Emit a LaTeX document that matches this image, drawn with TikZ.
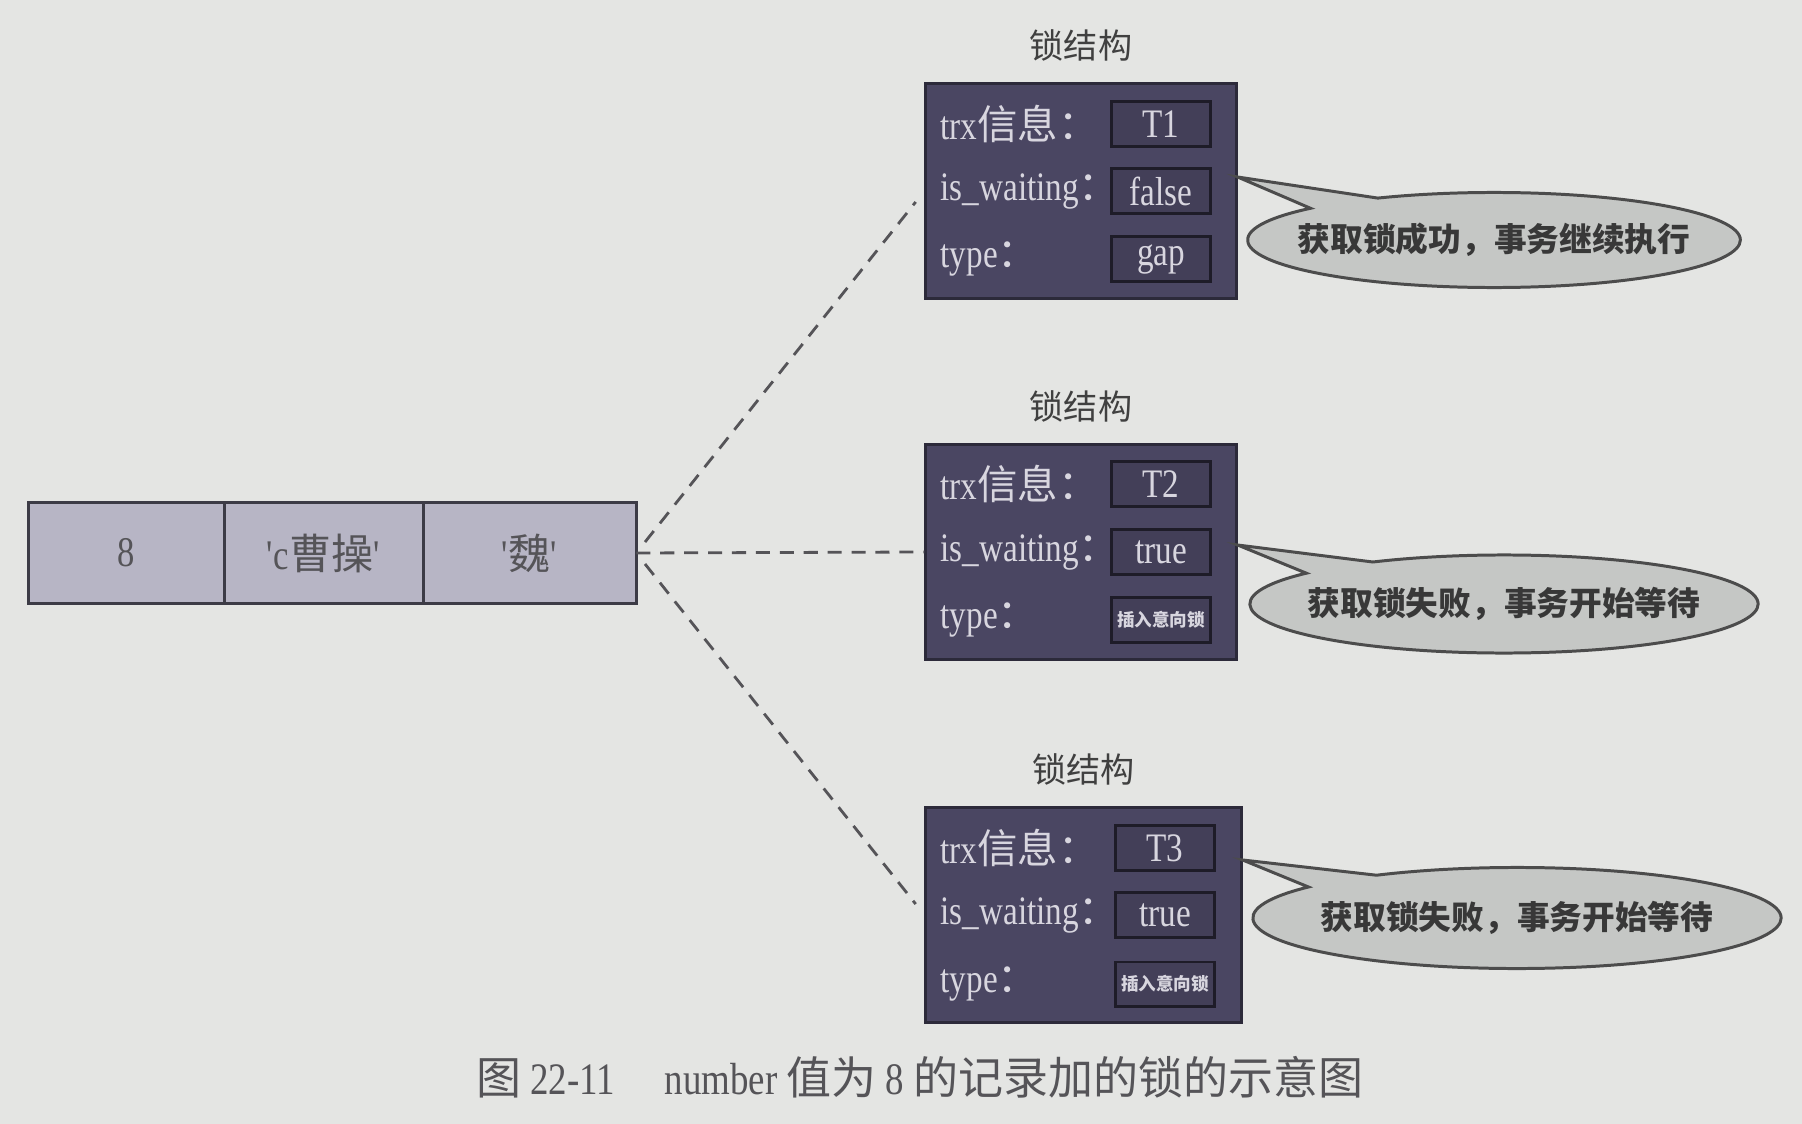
\documentclass[tikz,border=0pt]{standalone}
\usepackage{fontspec}
\setmainfont{Liberation Serif}[FakeStretch=0.82]
\newfontfamily\cjk{Noto Sans CJK SC}
\newcommand{\zh}[1]{{\cjk #1}}
\usetikzlibrary{positioning,shapes.callouts}
\definecolor{paper}{HTML}{E4E5E3}
\definecolor{lockfill}{HTML}{4A4662}
\definecolor{lockedge}{HTML}{2C2A3A}
\definecolor{valfill}{HTML}{433F58}
\definecolor{valedge}{HTML}{1E1C28}
\definecolor{locktext}{HTML}{D8D6DF}
\definecolor{cellfill}{HTML}{B7B5C5}
\definecolor{celledge}{HTML}{3C3B46}
\definecolor{inkgray}{HTML}{555458}
\definecolor{bubblefill}{HTML}{C5C7C5}
\begin{document}
\begin{tikzpicture}[x=0.01cm, y=-0.01cm,
  reccell/.style={rectangle, draw=celledge, fill=cellfill, line width=0.85pt, minimum height=1cm, outer sep=0pt, text=inkgray, font=\fontsize{12}{14}\selectfont},
  lockbox/.style={rectangle, draw=lockedge, fill=lockfill, line width=0.85pt, minimum width=3.1cm, minimum height=2.15cm},
  locktitle/.style={text=black!75, font=\fontsize{9.7}{11}\selectfont\cjk},
  field/.style={anchor=west, inner sep=0pt, text=locktext, font=\fontsize{11.5}{13}\selectfont},
  valbox/.style={rectangle, draw=valedge, fill=valfill, line width=0.85pt, minimum width=0.98cm, minimum height=0.44cm, inner sep=1pt, text=locktext, font=\fontsize{11.5}{13}\selectfont},
  smallval/.style={font=\fontsize{5}{6}\selectfont\cjk\bfseries},
  bubble/.style={ellipse callout, callout pointer arc=20, draw=black!70, fill=bubblefill, line width=0.85pt, inner sep=0pt, text=black!78, font=\fontsize{9.3}{11}\selectfont\cjk\bfseries},
  dashlink/.style={draw=inkgray, line width=0.8pt, dash pattern=on 4pt off 2.8pt}
]
\fill[paper] (0,0) rectangle (1802,1124);

% record
\node[reccell, minimum width=1.95cm] (rec1) at (126.5,553) {8};
\node[reccell, minimum width=1.99cm, right=0pt of rec1] (rec2) {\textquotesingle c\zh{曹操}\textquotesingle};
\node[reccell, minimum width=2.13cm, right=0pt of rec2] (rec3) {\textquotesingle\zh{魏}\textquotesingle};

% lock 1
\node[lockbox] (lock1) at (1081,191) {};
\node[locktitle, above=0.08cm of lock1] (title1) {锁结构};
\node[field] (trx1) at (940,124) {trx\zh{信息：}};
\node[field] (wait1) at (940,191) {is\_waiting\zh{：}};
\node[field] (type1) at (940,259) {type\zh{：}};
\node[valbox] (trxv1) at (1161,124) {T1};
\node[valbox] (waitv1) at (1161,191) {false};
\node[valbox] (typev1) at (1161,259) {gap};
\node[bubble, inner xsep=-0.22cm, minimum width=4.92cm, minimum height=0.95cm, callout absolute pointer={([yshift=0.14cm]lock1.east)}] (say1) at (1494,240) {获取锁成功，事务继续执行};

% lock 2
\node[lockbox] (lock2) at (1081,552) {};
\node[locktitle, above=0.08cm of lock2] (title2) {锁结构};
\node[field] (trx2) at (940,484) {trx\zh{信息：}};
\node[field] (wait2) at (940,552) {is\_waiting\zh{：}};
\node[field] (type2) at (940,620) {type\zh{：}};
\node[valbox] (trxv2) at (1161,484) {T2};
\node[valbox] (waitv2) at (1161,552) {true};
\node[valbox, smallval] (typev2) at (1161,620) {插入意向锁};
\node[bubble, inner xsep=-0.17cm, minimum width=5.08cm, minimum height=0.98cm, callout absolute pointer={([yshift=0.07cm]lock2.east)}] (say2) at (1504,604) {获取锁失败，事务开始等待};

% lock 3
\node[lockbox, minimum width=3.15cm] (lock3) at (1083.5,915) {};
\node[locktitle, above=0.08cm of lock3] (title3) {锁结构};
\node[field] (trx3) at (940,848) {trx\zh{信息：}};
\node[field] (wait3) at (940,915) {is\_waiting\zh{：}};
\node[field] (type3) at (940,984) {type\zh{：}};
\node[valbox] (trxv3) at (1165,848) {T3};
\node[valbox] (waitv3) at (1165,915) {true};
\node[valbox, smallval] (typev3) at (1165,984) {插入意向锁};
\node[bubble, inner xsep=-0.1cm, minimum width=5.28cm, minimum height=1.01cm, callout absolute pointer={([yshift=0.55cm]lock3.east)}] (say3) at (1517,918) {获取锁失败，事务开始等待};

% links
\draw[dashlink, shorten <=0.14cm, shorten >=0.14cm] (rec3.east) -- (lock1.west);
\draw[dashlink] (rec3.east) -- (lock2.west);
\draw[dashlink, shorten <=0.14cm, shorten >=0.14cm] (rec3.east) -- (lock3.west);

\node[text=inkgray, font=\fontsize{12.8}{14}\selectfont] (caption) at (920,1077) {\zh{图} 22-11\hspace{1.1em}number \zh{值为} 8 \zh{的记录加的锁的示意图}};
\end{tikzpicture}
\end{document}
